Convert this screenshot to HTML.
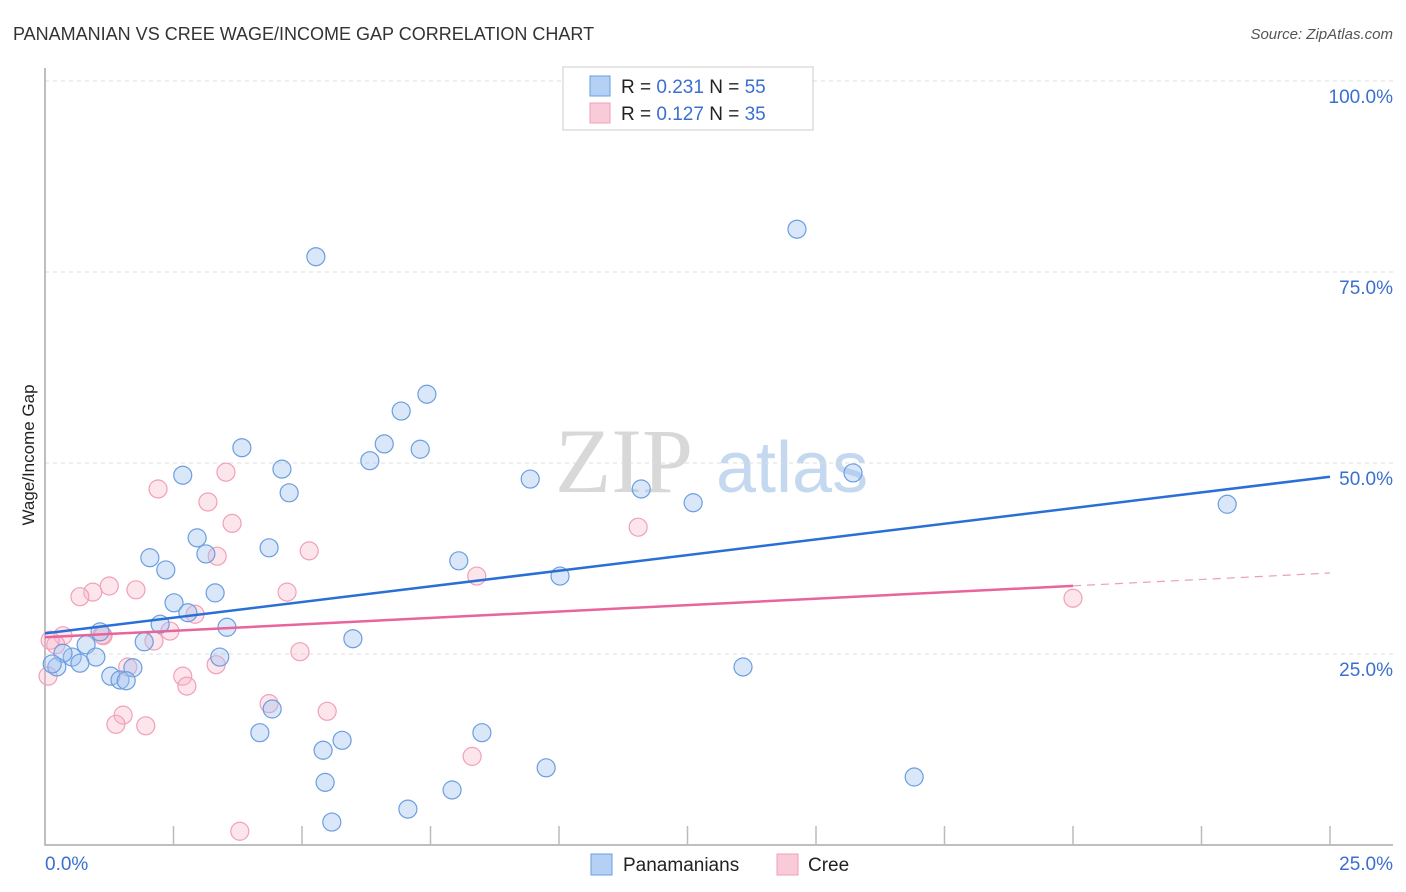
<!DOCTYPE html>
<html><head><meta charset="utf-8"><style>
body{margin:0;background:#fff;font-family:"Liberation Sans",sans-serif}
svg{display:block}
</style></head><body>
<svg id="c" width="1406" height="892" xmlns="http://www.w3.org/2000/svg">
<text x="13" y="40" font-size="18" fill="#333">PANAMANIAN VS CREE WAGE/INCOME GAP CORRELATION CHART</text>
<text x="1393" y="39" font-size="15" fill="#555" font-style="italic" text-anchor="end">Source: ZipAtlas.com</text>
<text x="555" y="492" font-size="92" fill="#d8d8d8" font-family="Liberation Serif,serif">ZIP</text>
<text x="716" y="492" font-size="72" fill="#c4d8f0">atlas</text>
<text transform="translate(34,455) rotate(-90)" font-size="17" fill="#222" text-anchor="middle">Wage/Income Gap</text>
<g id="grid"></g><g id="ticks"></g><g id="pts"></g><g id="lines"></g>
<g>
<rect x="563" y="67" width="250" height="63" fill="#fff" stroke="#ccc"/>
<rect x="590" y="76" width="20" height="20" fill="#b4d0f4" stroke="#6b9ee0"/>
<text x="621" y="93" font-size="19" fill="#222">R = <tspan fill="#3a6fd0">0.231</tspan>   N = <tspan fill="#3a6fd0">55</tspan></text>
<rect x="590" y="103" width="20" height="20" fill="#f9cad8" stroke="#f0a0b8"/>
<text x="621" y="120" font-size="19" fill="#222">R = <tspan fill="#3a6fd0">0.127</tspan>   N = <tspan fill="#3a6fd0">35</tspan></text>
</g>
<g>
<rect x="591" y="854" width="21" height="21" fill="#b4d0f4" stroke="#6b9ee0"/>
<text x="623" y="871" font-size="19" fill="#222">Panamanians</text>
<rect x="777" y="854" width="21" height="21" fill="#f9cad8" stroke="#f0a0b8"/>
<text x="808" y="871" font-size="19" fill="#222">Cree</text>
</g>
<text x="45" y="870" font-size="19" fill="#3a6fd0">0.0%</text>
<text x="1393" y="870" font-size="19" fill="#3a6fd0" text-anchor="end">25.0%</text>
</svg>
<script>
const blueX=[14.63,5.27,7.43,6.93,6.60,7.30,3.83,6.32,4.61,2.68,15.72,9.44,4.75,11.60,12.61,23.00,2.96,2.04,3.13,4.36,8.05,2.35,10.02,3.31,2.51,2.78,2.24,3.54,1.93,5.99,1.07,0.80,3.40,0.99,0.53,0.35,0.68,0.23,0.14,1.28,1.71,1.46,1.58,13.58,4.42,4.18,8.50,5.78,5.41,9.75,16.91,5.45,7.92,7.06,5.58];
const blueY=[80.6,77.0,59.0,56.8,52.5,51.8,52.0,50.3,49.2,48.4,48.7,47.9,46.1,46.6,44.8,44.6,40.2,37.6,38.1,38.9,37.2,36.0,35.2,33.0,31.7,30.4,28.9,28.5,26.6,27.0,27.9,26.2,24.6,24.6,24.6,25.1,23.8,23.3,23.7,22.1,23.2,21.6,21.5,23.3,17.8,14.7,14.7,13.7,12.4,10.1,8.9,8.2,7.2,4.7,3.0];
const pinkX=[3.52,2.20,3.17,3.64,11.54,5.14,3.35,1.25,1.77,0.93,0.68,4.71,8.40,20.00,2.43,2.92,0.35,1.11,2.12,4.96,0.21,0.06,1.61,3.33,2.68,2.76,4.36,5.49,1.52,1.38,1.96,8.31,3.79,0.10,1.13];
const pinkY=[48.8,46.6,44.9,42.1,41.6,38.5,37.8,33.9,33.4,33.1,32.5,33.1,35.2,32.3,28.0,30.2,27.4,27.5,26.7,25.3,26.2,22.1,23.3,23.6,22.1,20.8,18.5,17.5,17.0,15.8,15.6,11.6,1.8,26.8,27.4];
const yTicks=[25,50,75,100];
const yTickLabels=["25.0%","50.0%","75.0%","100.0%"];
const xTicks=[2.5,5,7.5,10,12.5,15,17.5,20,22.5,25];
const blueTrend=[27.7,48.2];
const pinkTrend=[27.2,35.6];
const pinkSolidEnd=20;
const NS="http://www.w3.org/2000/svg";
const X=v=>45+v*51.4, Y=v=>845-v*7.64;
function mk(t,a,p){const e=document.createElementNS(NS,t);for(const k in a)e.setAttribute(k,a[k]);p.appendChild(e);return e;}
const grid=document.getElementById('grid');
yTicks.forEach((t,i)=>{
 const l=mk('line',{x1:45,x2:1393,y1:Y(t),y2:Y(t),stroke:'#ddd','stroke-dasharray':'4,4'},grid);
 
 
 const tx=mk('text',{x:1393,y:Y(t)+22,'font-size':19,fill:'#3a6fd0','text-anchor':'end'},grid);
 tx.textContent=yTickLabels[i];
 
 
});
const tk=document.getElementById('ticks');
const ax=mk('path',{d:'M45 68V845H1393',fill:'none',stroke:'#aaa','stroke-width':1.5},tk);


xTicks.forEach(t=>{const l=mk('line',{x1:X(t),x2:X(t),y1:826,y2:845,stroke:'#bbb','stroke-width':1.5},tk);
 
 });
const pts=document.getElementById('pts');
pinkX.forEach((x,i)=>{const c=mk('circle',{cx:X(x),cy:Y(pinkY[i]),r:9,fill:'rgba(248,180,200,0.35)',stroke:'#f0a0b8','stroke-width':1.2},pts);
 
 });
blueX.forEach((x,i)=>{const c=mk('circle',{cx:X(x),cy:Y(blueY[i]),r:9,fill:'rgba(160,196,240,0.4)',stroke:'#6b9ee0','stroke-width':1.2},pts);
 
 });
const ln=document.getElementById('lines');
const b=mk('line',{x1:X(0),y1:Y(blueTrend[0]),x2:X(25),y2:Y(blueTrend[1]),stroke:'#2a6fd6','stroke-width':2.5},ln);


const pm=pinkTrend[0]+(pinkTrend[1]-pinkTrend[0])*pinkSolidEnd/25;
const p=mk('line',{x1:X(0),y1:Y(pinkTrend[0]),x2:X(pinkSolidEnd),y2:Y(pm),stroke:'#e8649a','stroke-width':2.5},ln);


const pd=mk('line',{x1:X(pinkSolidEnd),y1:Y(pm),x2:X(25),y2:Y(pinkTrend[1]),stroke:'#e8a0b8','stroke-width':1.2,'stroke-dasharray':'8,6'},ln);


</script>
</body></html>
